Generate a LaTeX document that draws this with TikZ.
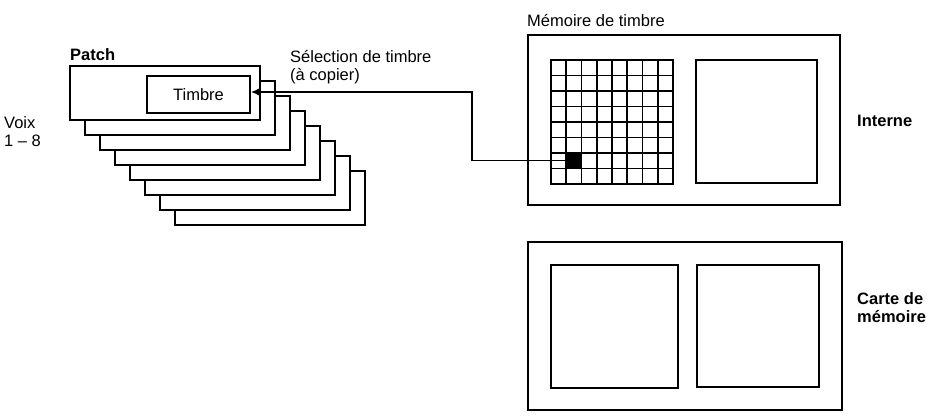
\documentclass[tikz,border=0pt]{standalone}
\usepackage{fontspec}
\setmainfont{Liberation Sans}
\usetikzlibrary{arrows.meta}
\begin{document}
\begin{tikzpicture}[x=1pt,y=-1pt,
  ln/.style={draw=black,line width=1.6pt},
  card/.style={ln,fill=white},
  lab/.style={font=\fontsize{16.5}{18}\selectfont,inner sep=0pt},
  blab/.style={lab,font=\fontsize{16.5}{18}\selectfont\bfseries}]
\useasboundingbox (0,0) rectangle (946,420);
% stack of patches
\foreach \i in {7,6,...,0}{
  \draw[card] (70+15*\i,66+15*\i) rectangle (260+15*\i,120+15*\i);
}
\node[ln,minimum width=103,minimum height=37,inner sep=0pt,lab] (timbre) at (198.5,94.5) {Timbre};
\node[blab,anchor=south west] (patch) at (70,61) {Patch};
\node[lab,align=left,anchor=west] (voix) at (4,132) {Voix\\1 -- 8};
\node[lab,align=left,anchor=south west] (sel) at (290,84) {Sélection de timbre\\(à copier)};
% memory
\node[lab,anchor=south west] (mem) at (527,27) {Mémoire de timbre};
\draw[ln] (528,35) rectangle (840,205);
\draw[ln] (528,242) rectangle (842,410);
\draw[ln] (551,60) rectangle (673,184);
\foreach \k in {1,...,7}{
  \draw[ln] (551+\k*15.25,60) -- (551+\k*15.25,184);
  \draw[ln] (551,60+\k*15.5) -- (673,60+\k*15.5);
}
\node[fill=black,minimum width=15,minimum height=15,inner sep=0pt] (cell) at (574.6,160.3) {};
\draw[ln] (696,60) rectangle (817,183);
\draw[ln] (551,265) rectangle (678,388);
\draw[ln] (697,265) rectangle (819,387);
\node[blab,anchor=west] (int) at (857,121) {Interne};
\node[blab,align=left,anchor=west] (carte) at (857,308) {Carte de\\mémoire};
\coordinate (c1) at (472,160.3);
\coordinate (c2) at (472,92);
\draw[line width=1.6pt,-{Latex[length=8pt,width=7pt]}] (cell.west) -- (c1) -- (c2) -- (timbre.east |- c2);
\end{tikzpicture}
\end{document}
